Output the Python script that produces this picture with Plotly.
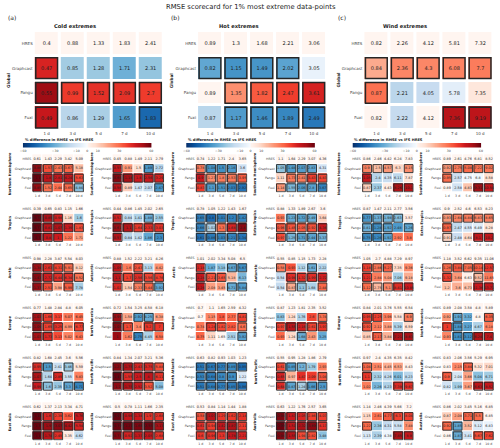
import numpy as np
import plotly.graph_objects as go

# ---------------- data ----------------
models = ["HRES", "Graphcast", "Pangu", "Fuxi"]
leads = ["1 d", "3 d", "5 d", "7 d", "10 d"]
regions = ["Northern Hemisphere", "Southern Hemisphere", "Tropics", "Extra-Tropics",
           "Arctic", "Antarctic", "Europe", "North America", "North Atlantic",
           "North Pacific", "East Asia", "Australia"]
panel_titles = ["Cold extremes", "Hot extremes", "Wind extremes"]
panel_tags = ["(a)", "(b)", "(c)"]
cbar_ticks = [-60, -30, -10, 0, 10, 30, 60]

# RMSE values: rows = HRES, Graphcast, Pangu, Fuxi ; cols = 1,3,5,7,10 d
# significance strings: Graphcast/Pangu/Fuxi, 1 = outlined cell
cold_global = [[0.4, 0.88, 1.33, 1.83, 2.41], [0.47, 0.85, 1.28, 1.71, 2.31], [0.55, 0.99, 1.52, 2.09, 2.7], [0.49, 0.86, 1.29, 1.65, 1.83]]
cold_global_sig = "10000/11111/10001"
cold_nh = [[0.61, 1.43, 2.29, 3.42, 5.09], [0.86, 1.57, 2.43, 3.67, 5.18], [1.10, 1.80, 2.81, 4.24, 5.63], [0.85, 1.52, 2.44, 3.65, 4.84]]
cold_nh_sig = "11110/11111/11011"
cold_sh = [[0.45, 0.88, 1.49, 2.11, 2.79], [0.55, 0.91, 1.5, 1.89, 2.72], [0.66, 1.18, 1.8, 2.56, 3.29], [0.56, 0.89, 1.47, 2.07, 2.47]]
cold_sh_sig = "10010/11111/10001"
cold_tr = [[0.39, 0.65, 0.83, 1.15, 1.66], [0.76, 0.85, 0.98, 1.16, 1.6], [0.73, 0.81, 1.07, 1.39, 1.83], [0.70, 0.80, 1.00, 1.22, 1.71]]
cold_tr_sig = "11100/11111/11100"
cold_et = [[0.44, 0.86, 1.45, 2.02, 2.65], [0.52, 0.84, 1.41, 1.88, 2.55], [0.61, 1.1, 1.64, 2.33, 3.03], [0.57, 0.84, 1.42, 1.86, 2.30]]
cold_et_sig = "10010/11111/10001"
cold_arc = [[0.98, 2.28, 3.87, 5.54, 8.03], [1.34, 2.63, 4.31, 5.91, 8.12], [1.43, 2.72, 4.44, 6.34, 8.52], [1.37, 2.51, 3.98, 5.99, 7.78]]
cold_arc_sig = "11110/11111/11010"
cold_ant = [[0.88, 1.52, 2.22, 3.21, 4.26], [1.09, 1.6, 2.43, 3.13, 4.42], [1.10, 1.70, 2.56, 3.56, 4.76], [1.02, 1.54, 2.33, 3.44, 3.92]]
cold_ant_sig = "10100/11111/10111"
cold_eur = [[0.77, 1.48, 2.84, 4.8, 6.05], [1.03, 1.66, 3.17, 5.07, 6.45], [1.09, 1.65, 3.25, 4.99, 6.77], [1.03, 1.73, 3.13, 5.02, 6.43]]
cold_eur_sig = "11000/11101/11000"
cold_na = [[0.72, 1.54, 3.25, 4.58, 6.18], [0.99, 1.58, 2.92, 4.25, 6.38], [1.05, 1.70, 3.4, 5.20, 7.00], [1.0, 1.62, 2.75, 4.45, 6.58]]
cold_na_sig = "10110/11011/00100"
cold_natl = [[0.82, 1.68, 2.45, 3.6, 5.56], [0.95, 1.5, 2.41, 3.46, 5.59], [1.07, 1.64, 2.85, 3.55, 5.83], [0.99, 1.60, 2.35, 3.3, 4.71]]
cold_natl_sig = "11010/10100/11011"
cold_npac = [[0.84, 1.34, 2.07, 3.21, 5.36], [1.22, 1.75, 2.43, 3.75, 5.88], [1.47, 1.55, 2.50, 4.0, 6.11], [1.2, 1.75, 2.52, 3.52, 5.08]]
cold_npac_sig = "11111/11111/11110"
cold_ea = [[0.62, 1.37, 2.13, 3.34, 4.71], [1.14, 1.60, 2.39, 3.62, 5.76], [1.3, 1.90, 3.07, 4.42, 5.54], [1.10, 1.74, 2.45, 3.35, 4.62]]
cold_ea_sig = "11101/11111/11100"
cold_aus = [[0.5, 0.78, 1.11, 1.66, 2.35], [0.91, 0.96, 1.34, 1.90, 2.68], [0.79, 1.21, 1.66, 2.56, 3.13], [0.73, 0.92, 1.37, 2.05, 2.68]]
cold_aus_sig = "11111/11111/11111"

hot_global = [[0.89, 1.3, 1.68, 2.21, 3.06], [0.82, 1.15, 1.49, 2.02, 3.05], [0.89, 1.35, 1.82, 2.47, 3.61], [0.87, 1.17, 1.46, 1.89, 2.49]]
hot_global_sig = "11110/01111/01111"
hot_nh = [[0.74, 1.22, 1.71, 2.4, 3.65], [0.78, 1.08, 1.5, 2.16, 3.6], [0.90, 1.27, 1.8, 2.53, 3.95], [0.83, 1.10, 1.51, 2.03, 2.92]]
hot_nh_sig = "11110/11111/11111"
hot_sh = [[1.1, 1.64, 2.29, 3.07, 4.36], [1.05, 1.48, 2.07, 2.83, 4.31], [1.11, 1.73, 2.41, 3.43, 4.83], [1.14, 1.55, 2.06, 2.8, 3.67]]
hot_sh_sig = "11110/01111/11111"
hot_tr = [[0.78, 1.05, 1.22, 1.43, 1.67], [0.65, 0.8, 1.01, 1.2, 1.42], [0.66, 1.02, 1.30, 1.68, 2.4], [0.61, 0.86, 1.03, 1.21, 1.34]]
hot_tr_sig = "11111/11111/11111"
hot_et = [[0.88, 1.33, 1.89, 2.67, 3.6], [0.93, 1.23, 1.72, 2.49, 3.64], [0.96, 1.45, 2.05, 2.92, 4.36], [0.97, 1.25, 1.71, 2.44, 3.37]]
hot_et_sig = "01110/11111/11111"
hot_arc = [[1.01, 2.02, 3.34, 5.08, 6.5], [1.18, 1.87, 3.18, 4.67, 5.67], [1.24, 2.21, 3.65, 5.18, 6.13], [1.26, 2.08, 3.45, 4.71, 5.84]]
hot_arc_sig = "10011/11100/10011"
hot_ant = [[0.55, 0.85, 1.15, 1.73, 2.28], [0.58, 0.93, 1.12, 1.61, 2.22], [0.54, 0.98, 1.32, 1.99, 2.72], [0.54, 0.87, 1.1, 1.68, 2.44]]
hot_ant_sig = "10010/01111/01101"
hot_eur = [[0.7, 1.1, 1.65, 2.59, 4.32], [0.7, 1.15, 1.80, 2.77, 4.81], [0.74, 1.24, 1.82, 2.82, 4.6], [0.75, 1.11, 1.65, 2.51, 3.92]]
hot_eur_sig = "00001/01101/00001"
hot_na = [[0.87, 1.23, 1.81, 2.35, 3.52], [0.83, 1.24, 1.76, 2.6, 3.74], [0.97, 1.55, 2.16, 2.61, 3.97], [0.93, 1.24, 1.68, 2.43, 3.25]]
hot_na_sig = "00001/11111/00100"
hot_natl = [[0.63, 0.82, 0.93, 1.03, 1.23], [0.51, 0.67, 0.77, 0.89, 0.95], [0.53, 0.68, 0.8, 0.9, 1.22], [0.51, 0.68, 0.77, 0.85, 0.96]]
hot_natl_sig = "11111/11110/11111"
hot_npac = [[0.55, 0.95, 1.28, 1.86, 2.79], [0.61, 0.85, 1.2, 1.79, 2.93], [0.65, 0.97, 1.47, 2.09, 3.04], [0.64, 0.87, 1.24, 1.66, 2.5]]
hot_npac_sig = "11100/10001/11111"
hot_ea = [[0.53, 0.84, 1.14, 1.44, 1.88], [0.58, 1.07, 1.29, 1.62, 2.14], [0.61, 0.94, 1.42, 1.87, 2.11], [0.60, 0.96, 1.3, 1.78, 2.21]]
hot_ea_sig = "11111/11111/11111"
hot_aus = [[0.63, 1.22, 1.76, 2.57, 3.65], [0.94, 1.47, 2.05, 2.86, 4.07], [0.99, 1.51, 2.32, 3.69, 4.17], [0.94, 1.55, 1.94, 2.82, 3.48]]
hot_aus_sig = "11111/11111/11110"

wind_global = [[0.82, 2.26, 4.12, 5.81, 7.32], [0.84, 2.36, 4.3, 6.08, 7.7], [0.87, 2.21, 4.05, 5.78, 7.35], [0.82, 2.22, 4.12, 7.36, 9.19]]
wind_global_sig = "11111/10000/00011"
wind_nh = [[0.86, 2.46, 4.42, 6.24, 7.83], [0.90, 2.5, 4.57, 6.3, 8.15], [1.05, 2.4, 4.35, 6.11, 7.87], [0.87, 2.37, 4.43, 8.26, 10.1]]
wind_nh_sig = "11101/10000/10011"
wind_sh = [[0.89, 2.61, 4.76, 6.81, 8.52], [0.92, 2.75, 5.08, 7.22, 9.02], [0.95, 2.57, 4.75, 6.8, 8.58], [0.89, 2.58, 4.83, 9.31, 10.54]]
wind_sh_sig = "11111/10000/00011"
wind_tr = [[0.87, 1.47, 2.11, 2.77, 3.56], [0.77, 1.37, 1.98, 2.63, 3.57], [0.81, 1.28, 1.92, 2.48, 3.26], [0.75, 1.26, 1.92, 2.92, 3.8]]
wind_tr_sig = "11110/11101/11100"
wind_et = [[0.9, 2.52, 4.6, 6.53, 8.23], [0.93, 2.64, 4.84, 6.83, 8.65], [0.97, 2.47, 4.55, 6.49, 8.28], [0.91, 2.48, 4.64, 8.1, 10.2]]
wind_et_sig = "11111/10000/10011"
wind_arc = [[1.05, 2.7, 4.88, 7.29, 8.97], [1.18, 2.86, 5.27, 7.35, 9.36], [1.21, 2.84, 5.04, 7.06, 9.18], [1.12, 2.75, 5.1, 8.41, 10.85]]
wind_arc_sig = "11100/10000/11111"
wind_ant = [[1.18, 3.52, 6.62, 9.35, 11.06], [1.26, 3.84, 7.05, 10.14, 12.57], [1.32, 3.64, 6.63, 9.52, 11.65], [1.2, 3.6, 6.73, 11.36, 13.71]]
wind_ant_sig = "11111/10010/00011"
wind_eur = [[0.84, 2.01, 3.76, 5.55, 6.54], [0.95, 2.25, 3.96, 5.58, 6.9], [0.92, 2.12, 3.88, 5.39, 6.59], [0.85, 2.17, 3.84, 7.21, 8.63]]
wind_eur_sig = "11001/10000/01011"
wind_na = [[0.89, 2.08, 3.58, 4.8, 5.89], [0.92, 1.91, 3.32, 4.8, 6.35], [1.0, 1.84, 3.27, 4.67, 6.18], [0.93, 1.81, 3.12, 6.24, 7.40]]
wind_na_sig = "01001/11000/01111"
wind_natl = [[0.97, 2.4, 4.35, 6.35, 8.42], [1.04, 2.51, 4.45, 6.53, 8.43], [1.1, 2.32, 4.26, 6.01, 8.23], [1.02, 2.26, 4.23, 7.39, 9.67]]
wind_natl_sig = "10000/10000/00011"
wind_npac = [[0.83, 2.06, 3.56, 5.29, 6.95], [0.83, 2.15, 3.84, 5.32, 7.01], [0.9, 2.04, 3.66, 5.04, 6.71], [0.82, 1.99, 3.67, 6.63, 8.52]]
wind_npac_sig = "00100/10000/00011"
wind_ea = [[1.14, 2.46, 4.39, 5.66, 7.2], [1.15, 2.61, 4.77, 6.3, 8.04], [1.22, 2.36, 4.31, 5.58, 7.48], [1.13, 2.39, 4.38, 7.45, 8.9]]
wind_ea_sig = "00111/10000/00011"
wind_aus = [[0.86, 2.02, 3.45, 5.16, 6.85], [0.87, 2.08, 3.71, 5.5, 6.85], [0.92, 1.85, 3.52, 5.12, 6.83], [0.86, 1.87, 3.41, 5.67, 7.62]]
wind_aus_sig = "00110/11000/01011"

cold_regions = [cold_nh, cold_sh, cold_tr, cold_et, cold_arc, cold_ant, cold_eur, cold_na, cold_natl, cold_npac, cold_ea, cold_aus]
cold_regions_sig = [cold_nh_sig, cold_sh_sig, cold_tr_sig, cold_et_sig, cold_arc_sig, cold_ant_sig, cold_eur_sig, cold_na_sig, cold_natl_sig, cold_npac_sig, cold_ea_sig, cold_aus_sig]
hot_regions = [hot_nh, hot_sh, hot_tr, hot_et, hot_arc, hot_ant, hot_eur, hot_na, hot_natl, hot_npac, hot_ea, hot_aus]
hot_regions_sig = [hot_nh_sig, hot_sh_sig, hot_tr_sig, hot_et_sig, hot_arc_sig, hot_ant_sig, hot_eur_sig, hot_na_sig, hot_natl_sig, hot_npac_sig, hot_ea_sig, hot_aus_sig]
wind_regions = [wind_nh, wind_sh, wind_tr, wind_et, wind_arc, wind_ant, wind_eur, wind_na, wind_natl, wind_npac, wind_ea, wind_aus]
wind_regions_sig = [wind_nh_sig, wind_sh_sig, wind_tr_sig, wind_et_sig, wind_arc_sig, wind_ant_sig, wind_eur_sig, wind_na_sig, wind_natl_sig, wind_npac_sig, wind_ea_sig, wind_aus_sig]

# ---------------- styling ----------------
W, H = 500, 448
FONT = "DejaVu Sans"
TXT = "#222222"
LBL = "#444444"

blues = ['#f7fbff', '#deebf7', '#c6dbef', '#9ecae1', '#6baed6', '#4292c6', '#2171b5', '#08519c', '#08306b']
reds = ['#fff5f0', '#fee0d2', '#fcbba1', '#fc9272', '#fb6a4a', '#ef3b2c', '#cb181d', '#a50f15', '#67000d']
cscale = []
for k in range(8, -1, -1):
    cscale.append([0.4999 * (1 - k / 8), blues[k]])
for k in range(0, 9):
    cscale.append([0.5001 + 0.4999 * k / 8, reds[k]])


def fx(p):
    return p / W


def fy(p):
    return 1 - p / H


def to_s(p):
    s = np.sign(p) * min(1.0, np.log1p(abs(p)) / np.log(61))
    return s if s != 0 else 0.001


fig = go.Figure()
layout = {}
shapes = []
annotations = []
counter = [0]


def next_axes():
    counter[0] += 1
    n = counter[0]
    xn = "x" if n == 1 else f"x{n}"
    yn = "y" if n == 1 else f"y{n}"
    xk = "xaxis" if n == 1 else f"xaxis{n}"
    yk = "yaxis" if n == 1 else f"yaxis{n}"
    return xn, yn, xk, yk


def add_table(vals, sig, x0, x1, y0, y1, big):
    xn, yn, xk, yk = next_axes()
    hres = vals[0]
    z, text = [], []
    for r, row in enumerate(vals):
        zr = []
        for c, v in enumerate(row):
            p = 0.0 if r == 0 else (v - hres[c]) / hres[c] * 100
            zr.append(to_s(p))
        z.append(zr)
        text.append([f"{round(v, 2):g}" for v in row])
    gap = 3 if big else 1
    fig.add_trace(go.Heatmap(
        z=z, x=list(range(5)), y=list(range(4)), text=text,
        texttemplate="%{text}",
        textfont=dict(size=5.0 if big else 3.4, color=TXT, family=FONT),
        colorscale=cscale, zmin=-1, zmax=1, showscale=False,
        xgap=gap, ygap=gap, hoverinfo="skip", xaxis=xn, yaxis=yn))
    tf = 4.0 if big else 3.2
    layout[xk] = dict(domain=[fx(x0), fx(x1)], range=[-0.5, 4.5], anchor=yn,
                      tickvals=list(range(5)), ticktext=leads, ticks="",
                      showgrid=False, zeroline=False, showline=False,
                      tickfont=dict(size=tf, color=LBL, family=FONT), fixedrange=True)
    layout[yk] = dict(domain=[fy(y1), fy(y0)], range=[3.5, -0.5], anchor=xn,
                      tickvals=list(range(4)), ticktext=models, ticks="",
                      showgrid=False, zeroline=False, showline=False,
                      tickfont=dict(size=tf, color=LBL, family=FONT), fixedrange=True)
    rows = sig.split("/")
    cw = (x1 - x0) / 5.0
    ch = (y1 - y0) / 4.0
    dx = (gap / 2.0 + (0.6 if big else 0.3)) / cw
    dy = (gap / 2.0 + (0.6 if big else 0.3)) / ch
    for r, srow in enumerate(rows, start=1):
        for c, flag in enumerate(srow):
            if flag == "1":
                shapes.append(dict(type="rect", xref=xn, yref=yn,
                                   x0=c - 0.5 + dx, x1=c + 0.5 - dx,
                                   y0=r - 0.5 + dy, y1=r + 0.5 - dy,
                                   line=dict(color="#262626", width=1.5 if big else 0.9),
                                   fillcolor="rgba(0,0,0,0)", layer="above"))


def add_cbar(x0, x1, y0, y1):
    xn, yn, xk, yk = next_axes()
    xs = list(np.linspace(-60, 60, 241))
    fig.add_trace(go.Heatmap(z=[xs], x=xs, y=[0], colorscale=cscale, zmin=-60, zmax=60,
                             showscale=False, hoverinfo="skip", xaxis=xn, yaxis=yn))
    layout[xk] = dict(domain=[fx(x0), fx(x1)], range=[-60.25, 60.25], anchor=yn,
                      tickvals=cbar_ticks,
                      ticktext=[str(t).replace("-", "\u2212") for t in cbar_ticks],
                      ticks="", showgrid=False, zeroline=False, showline=False,
                      tickfont=dict(size=3.2, color=LBL, family=FONT), fixedrange=True)
    layout[yk] = dict(domain=[fy(y1), fy(y0)], visible=False, anchor=xn, fixedrange=True)


def ann(text, x, y, size, bold=False, xanchor="center", angle=0, color="#222222"):
    annotations.append(dict(text=f"<b>{text}</b>" if bold else text, x=fx(x), y=fy(y),
                            xref="paper", yref="paper", showarrow=False,
                            xanchor=xanchor, yanchor="middle", textangle=angle,
                            font=dict(size=size, color=color, family=FONT)))


offsets = [0, 165, 333]
globals_ = [(cold_global, cold_global_sig), (hot_global, hot_global_sig), (wind_global, wind_global_sig)]
regionals = [(cold_regions, cold_regions_sig), (hot_regions, hot_regions_sig), (wind_regions, wind_regions_sig)]

ann("RMSE scorecard for 1% most extreme data-points", 250, 7, 6.8)

for pi, off in enumerate(offsets):
    ann(panel_tags[pi], off + 3, 18, 6.0, xanchor="left")
    ann(panel_titles[pi], off + 73, 26, 5.2, bold=True)
    ann("Global", off + 5, 80, 4.2, bold=True, angle=-90)
    gv, gs = globals_[pi]
    add_table(gv, gs, off + 31, off + 162, 31, 130, True)
    add_cbar(off + 20, off + 150, 143, 147.5)
    ann("% difference in RMSE vs IFS HRES", off + 20, 139.5, 3.6, bold=True, xanchor="left")
    rv, rs = regionals[pi]
    for k in range(6):
        yk0 = 159 + 49.6 * k
        for side in range(2):
            idx = 2 * k + side
            if side == 0:
                x0, x1, lx = off + 29.5, off + 82, off + 7
            else:
                x0, x1, lx = off + 110.5, off + 163, off + 90
            add_table(rv[idx], rs[idx], x0, x1, yk0 - 4.8, yk0 + 33.6, False)
            ann(regions[idx], lx, yk0 + 14.4, 3.5, bold=True, angle=-90)

fig.update_layout(**layout)
fig.update_layout(width=W, height=H, margin=dict(l=0, r=0, t=0, b=0),
                  paper_bgcolor="white", plot_bgcolor="white",
                  font=dict(family=FONT), shapes=shapes, annotations=annotations,
                  showlegend=False)
fig.write_html("out.html", config={"displayModeBar": False},
               post_script="document.body.style.margin='0';document.body.style.overflow='hidden';")
